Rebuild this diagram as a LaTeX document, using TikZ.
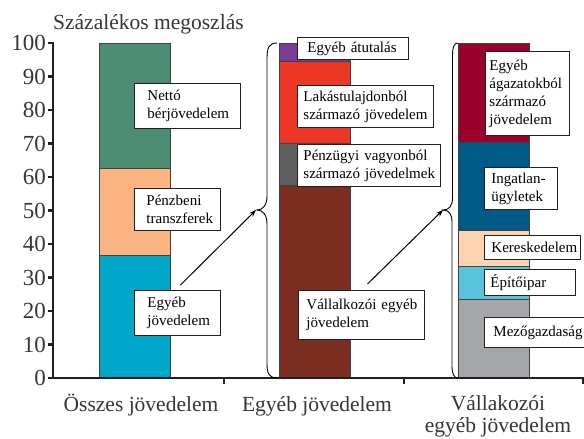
\documentclass[tikz,border=0pt]{standalone}
\usepackage{fontspec}
\setmainfont{Liberation Serif}
\usetikzlibrary{arrows.meta}
\definecolor{cTeal}{RGB}{0,166,200}
\definecolor{cOrange}{RGB}{250,180,130}
\definecolor{cGreen}{RGB}{75,140,115}
\definecolor{cBrown}{RGB}{122,45,32}
\definecolor{cDGray}{RGB}{95,95,95}
\definecolor{cRed}{RGB}{236,54,38}
\definecolor{cPurple}{RGB}{120,60,150}
\definecolor{cLGray}{RGB}{165,166,170}
\definecolor{cLBlue}{RGB}{90,195,220}
\definecolor{cPeach}{RGB}{252,212,178}
\definecolor{cDBlue}{RGB}{0,90,135}
\definecolor{cCrimson}{RGB}{155,0,45}
\definecolor{cAxis}{RGB}{35,31,32}
\begin{document}
\begin{tikzpicture}[x=1pt,y=-1pt,
  bar/.style={draw=cAxis!85,line width=0.8pt},
  axisline/.style={draw=cAxis,line width=2.8pt},
  tickline/.style={draw=cAxis,line width=2.2pt},
  lbl/.style={draw=cAxis,line width=0.9pt,fill=white,anchor=north west,align=left,
    inner ysep=1pt,font=\fontsize{15}{18}\selectfont},
  ticklab/.style={anchor=east,font=\fontsize{23}{24}\selectfont,text=cAxis!90,inner sep=0pt},
  catlab/.style={anchor=base,align=center,font=\fontsize{21.5}{21.5}\selectfont,text=cAxis!90,inner sep=0pt},
  arr/.style={draw=black,line width=1pt,-{Stealth[length=7pt,width=5pt]}},
  bracel/.style={draw=black,line width=0.9pt}]
\clip (0,0) rectangle (584,439);
\fill[white] (0,0) rectangle (584,439);
% bar 1
\draw[bar,fill=cTeal] (99,378) rectangle (170,255.7);
\draw[bar,fill=cOrange] (99,255.7) rectangle (170,168.3);
\draw[bar,fill=cGreen] (99,168.3) rectangle (170,43);
% bar 2
\draw[bar,fill=cBrown] (279,378) rectangle (350,185.7);
\draw[bar,fill=cDGray] (279,185.7) rectangle (350,143.3);
\draw[bar,fill=cRed] (279,143.3) rectangle (350,61);
\draw[bar,fill=cPurple] (279,61) rectangle (350,43);
% bar 3
\draw[bar,fill=cLGray] (458,378) rectangle (529,299.3);
\draw[bar,fill=cLBlue] (458,299.3) rectangle (529,266);
\draw[bar,fill=cPeach] (458,266) rectangle (529,230);
\draw[bar,fill=cDBlue] (458,230) rectangle (529,142.7);
\draw[bar,fill=cCrimson] (458,142.7) rectangle (529,43);
% axes
\draw[axisline] (53,42) -- (53,378) -- (586,378);
\foreach \v [evaluate=\v as \lab using int(10*\v)] in {0,...,10}{
  \draw[tickline] (47.5,{378-33.5*\v}) -- (53,{378-33.5*\v});
  \node[ticklab] (t\v) at (46,{378-33.5*\v}) {\lab};
}
\foreach \xx in {224,404,583}{
  \draw[tickline] (\xx,378) -- (\xx,384);
}
\node[anchor=base west,font=\fontsize{21.5}{22}\selectfont,text=cAxis!90,inner sep=0pt] (title) at (53,30) {Százalékos megoszlás};
% category labels
\node[catlab] (cat1) at (141,411) {Összes jövedelem};
\node[catlab] (cat2) at (317,411) {Egyéb jövedelem};
\node[catlab] (cat3) at (498,432) {Vállakozói\\egyéb jövedelem};
% braces
\draw[bracel] (277,43) .. controls (269,43) and (267,48) .. (267,58) -- (267,196)
  .. controls (267,205) and (263,210) .. (257,210)
  .. controls (263,210) and (267,215) .. (267,224) -- (267,364)
  .. controls (267,373) and (269,378) .. (277,378);
\draw[bracel] (458,43) .. controls (454,43) and (452.5,47) .. (452.5,56) -- (452.5,198)
  .. controls (452.5,206) and (449,210) .. (443,210)
  .. controls (449,210) and (452,214) .. (452,222) -- (452,366)
  .. controls (452,374) and (454,378) .. (458,378);
\coordinate (tipA) at (256,210);
\coordinate (tipB) at (443,210);
% label boxes
\node[lbl,inner xsep=13pt,text width=80pt,minimum height=45pt] (netto) at (134,83) {Nettó\\bérjövedelem};
\node[lbl,inner xsep=12pt,text width=62pt,minimum height=42pt] (penz) at (134,188) {Pénzbeni\\transzferek};
\node[lbl,inner xsep=13pt,text width=60pt,minimum height=45pt] (egyeb1) at (134,290) {Egyéb\\jövedelem};
\node[lbl,inner xsep=10pt,text width=91pt,minimum height=22pt] (atut) at (297,37) {\mbox{Egyéb átutalás}};
\node[lbl,inner xsep=6pt,text width=124pt,minimum height=42pt] (lakas) at (297,85) {Lakástulajdonból\\\mbox{származó jövedelem}};
\node[lbl,inner xsep=6pt,text width=131pt,minimum height=42pt] (penzugy) at (297,144) {\mbox{Pénzügyi vagyonból}\\\mbox{származó jövedelmek}};
\node[lbl,inner xsep=8pt,text width=110pt,minimum height=49pt] (vallalk) at (298,290) {\mbox{Vállalkozói egyéb}\\jövedelem};
\node[lbl,inner xsep=4pt,text width=76pt,minimum height=84pt] (agazat) at (485,51) {Egyéb\\ágazatokból\\származó\\jövedelem};
\node[lbl,inner xsep=7pt,text width=59pt,minimum height=42pt] (ingatlan) at (484,167) {Ingatlan-\\ügyletek};
\node[lbl,inner xsep=7pt,text width=82pt,minimum height=24pt] (keresk) at (484,235) {Kereskedelem};
\node[lbl,inner xsep=6pt,text width=79pt,minimum height=26pt] (epito) at (484,269) {Építőipar};
\node[lbl,inner xsep=9pt,text width=98pt,minimum height=30pt] (mezo) at (484,317) {Mezőgazdaság};
% arrows
\draw[arr] ([shift={(3,-5)}]egyeb1.north) -- (tipA);
\draw[arr] ([shift={(6,-6)}]vallalk.north) -- (tipB);
\end{tikzpicture}
\end{document}
